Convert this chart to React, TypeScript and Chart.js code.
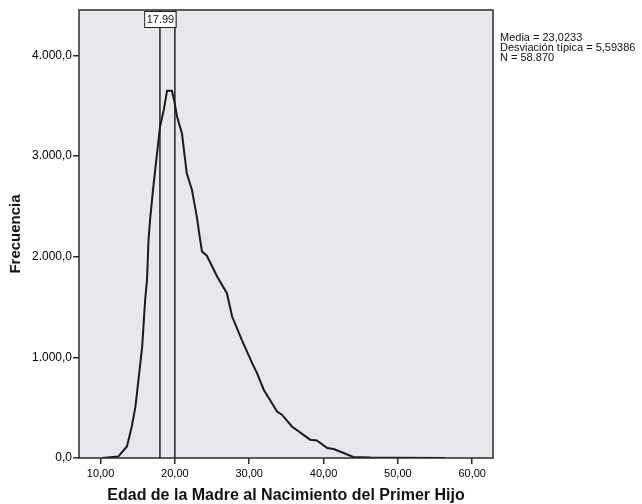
import React, { useEffect, useRef } from 'react';
import { Chart, registerables } from 'chart.js';

Chart.register(...registerables);

const ages = [10.2, 12.4, 13.55, 14.2, 14.7, 15.1, 15.6, 16.0, 16.25, 16.45, 16.7, 17.1, 17.6, 18.0, 18.5, 18.95, 19.6, 19.9, 20.3, 20.95, 21.6, 22.3, 22.95, 23.4, 23.65, 24.3, 25.7, 27.0, 27.7, 29.0, 30.4, 31.05, 31.95, 33.75, 34.4, 35.75, 38.2, 39.1, 40.5, 41.35, 42.7, 44.0, 46.3, 50.3, 56.4];
const freq = [0, 16, 115, 313, 512, 777, 1107, 1570, 1768, 2166, 2397, 2694, 3026, 3289, 3455, 3647, 3647, 3554, 3389, 3224, 2827, 2662, 2397, 2166, 2050, 2009, 1801, 1637, 1405, 1174, 942, 843, 678, 462, 430, 313, 182, 175, 99, 89, 50, 10, 5, 3, 0];

const refLines = [17.99, 20.0];
const refLabel = '17.99';
const statsLines = ['Media = 23,0233', 'Desviación típica = 5,59386', 'N = 58.870'];
const yTicks = [0, 1000, 2000, 3000, 4000];
const xTicks = [10, 20, 30, 40, 50, 60];
const yTitle = 'Frecuencia';
const xTitle = 'Edad de la Madre al Nacimiento del Primer Hijo';

const X_MIN = 7.1;
const X_MAX = 62.8;
const Y_MAX = 4450;

const FONT = "'Liberation Sans', Arial, sans-serif";

export default function App() {
  const ref = useRef<HTMLCanvasElement | null>(null);

  useEffect(() => {
    if (!ref.current) return;

    const framePlugin = {
      id: 'frame',
      beforeDatasetsDraw(chart: any) {
        const { ctx, chartArea: a } = chart;
        ctx.save();
        ctx.fillStyle = 'rgb(231,232,235)';
        ctx.fillRect(a.left, a.top, a.right - a.left, a.bottom - a.top);
        ctx.restore();
      },
      afterDatasetsDraw(chart: any) {
        const { ctx, chartArea: a } = chart;
        ctx.save();
        ctx.strokeStyle = '#2a2a2a';
        ctx.lineWidth = 1.5;
        ctx.strokeRect(a.left, a.top, a.right - a.left, a.bottom - a.top);
        // label box for reference line
        const xs = chart.scales.x;
        const cx = xs.getPixelForValue(refLines[0]);
        ctx.font = `11px ${FONT}`;
        const w = ctx.measureText(refLabel).width + 4;
        const h = 16;
        const bx = cx - w / 2;
        const by = a.top + 1;
        ctx.fillStyle = '#ffffff';
        ctx.fillRect(bx, by, w, h);
        ctx.strokeStyle = '#222';
        ctx.lineWidth = 1;
        ctx.strokeRect(bx + 0.5, by + 0.5, w, h);
        ctx.fillStyle = '#111';
        ctx.textAlign = 'center';
        ctx.textBaseline = 'middle';
        ctx.fillText(refLabel, cx + 0.5, by + h / 2 + 1);
        // stats text
        ctx.font = `11px ${FONT}`;
        ctx.textAlign = 'left';
        ctx.textBaseline = 'middle';
        ctx.fillStyle = '#111';
        statsLines.forEach((s, i) => {
          ctx.fillText(s, a.right + 7, 38 + i * 10);
        });
        ctx.restore();
      },
    };

    const curve = ages.map((x, i) => ({ x, y: freq[i] }));
    const refSets = refLines.map((v) => ({
      label: 'ref' + v,
      data: [{ x: v, y: 0 }, { x: v, y: Y_MAX }],
      borderColor: '#222',
      borderWidth: 1.5,
      pointRadius: 0,
      fill: false,
      tension: 0,
    }));

    const chart = new Chart(ref.current, {
      type: 'line',
      data: {
        datasets: [
          {
            label: 'Frecuencia',
            data: curve,
            borderColor: '#1a1a1a',
            borderWidth: 2,
            pointRadius: 0,
            fill: false,
            tension: 0,
          },
          ...refSets,
        ],
      },
      options: {
        responsive: false,
        animation: false,
        layout: { padding: { left: 0, top: 10, right: 149, bottom: 0 } },
        plugins: {
          legend: { display: false },
          tooltip: { enabled: false },
        },
        scales: {
          x: {
            type: 'linear',
            min: X_MIN,
            max: X_MAX,
            afterBuildTicks: (s: any) => {
              s.ticks = xTicks.map((v) => ({ value: v }));
            },
            afterFit: (s: any) => {
              s.height = 46;
            },
            border: { display: false },
            grid: {
              display: true,
              drawOnChartArea: false,
              drawTicks: true,
              tickLength: 6,
              color: '#2a2a2a',
              lineWidth: 1.5,
            },
            ticks: {
              padding: 3,
              color: '#000',
              font: { family: FONT, size: 11 },
              maxRotation: 0,
              callback: (v: any) => Number(v).toFixed(2).replace('.', ','),
            },
            title: {
              display: true,
              text: xTitle,
              color: '#111',
              font: { family: FONT, size: 16, weight: 'bold', lineHeight: 1 },
              padding: { top: 0, bottom: 0 },
            },
          },
          y: {
            type: 'linear',
            min: 0,
            max: Y_MAX,
            afterBuildTicks: (s: any) => {
              s.ticks = yTicks.map((v) => ({ value: v }));
            },
            afterFit: (s: any) => {
              s.width = 79;
            },
            border: { display: false },
            grid: {
              display: true,
              drawOnChartArea: false,
              drawTicks: true,
              tickLength: 6,
              color: '#2a2a2a',
              lineWidth: 1.5,
            },
            ticks: {
              padding: 1,
              color: '#000',
              font: { family: FONT, size: 12 },
              callback: (v: any) =>
                Number(v).toLocaleString('de-DE', { minimumFractionDigits: 1, maximumFractionDigits: 1 }),
            },
            title: {
              display: true,
              text: yTitle,
              color: '#111',
              font: { family: FONT, size: 15, weight: 'bold', lineHeight: 1.2 },
              padding: { top: 7, bottom: 0 },
            },
          },
        },
      },
      plugins: [framePlugin],
    } as any);

    return () => chart.destroy();
  }, []);

  return (
    <div style={{ position: 'absolute', left: 0, top: 0, width: 642, height: 504, background: '#fff' }}>
      <canvas ref={ref} width={642} height={504} style={{ display: 'block' }} />
    </div>
  );
}
